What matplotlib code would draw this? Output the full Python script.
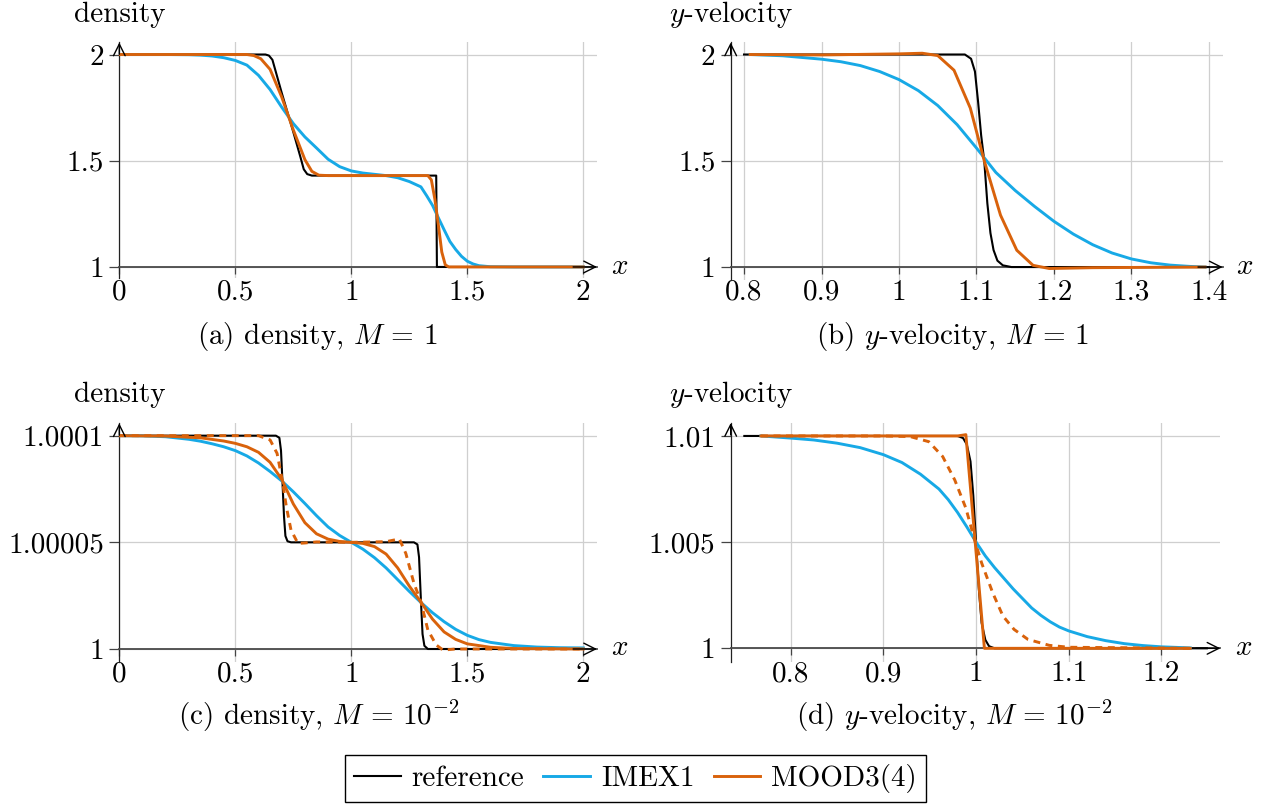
import matplotlib
matplotlib.use('Agg')
import matplotlib.pyplot as plt
from matplotlib.lines import Line2D

plt.rcParams.update({
    'font.family': 'cmr10',
    'mathtext.fontset': 'cm',
    'axes.formatter.use_mathtext': True,
    'font.size': 21,
    'lines.scale_dashes': False,
    'lines.solid_joinstyle': 'round',
    'lines.dash_joinstyle': 'round',
})

# ---------------- data ----------------
# (a) density, M = 1
ref_a_x = [0, 0.63, 0.645, 0.66, 0.70, 0.75, 0.78, 0.795, 0.81, 0.83, 1.366, 1.369, 2.0]
ref_a_y = [2, 2, 1.995, 1.975, 1.82, 1.635, 1.52, 1.46, 1.437, 1.43, 1.43, 1.0, 1.0]
imex_a_x = [0, 0.2, 0.3, 0.35, 0.4, 0.45, 0.5, 0.55, 0.6, 0.65, 0.7, 0.75, 0.8, 0.85, 0.9, 0.95,
            1.0, 1.05, 1.1, 1.15, 1.2, 1.25, 1.3, 1.325, 1.35, 1.375, 1.4, 1.425, 1.45, 1.475,
            1.5, 1.525, 1.55, 1.6, 1.7, 2.0]
imex_a_y = [2.0, 2.0, 1.999, 1.997, 1.993, 1.985, 1.972, 1.95, 1.902, 1.835, 1.752, 1.675, 1.612,
            1.56, 1.507, 1.472, 1.452, 1.442, 1.436, 1.43, 1.42, 1.402, 1.377, 1.335, 1.29, 1.232,
            1.175, 1.12, 1.082, 1.05, 1.027, 1.014, 1.006, 1.001, 1.0, 1.0]
mood_a_x = [0, 0.55, 0.58, 0.61, 0.65, 0.70, 0.75, 0.80, 0.83, 0.86, 0.9, 1.33, 1.345, 1.36,
            1.375, 1.39, 1.405, 1.42, 2.0]
mood_a_y = [2, 2, 1.995, 1.98, 1.93, 1.80, 1.645, 1.505, 1.45, 1.432, 1.43, 1.43, 1.41, 1.32,
            1.2, 1.07, 1.01, 1.0, 1.0]

# (b) y-velocity, M = 1
ref_b_x = [0.8, 1.085, 1.093, 1.098, 1.102, 1.106, 1.11, 1.114, 1.118, 1.122, 1.127, 1.134, 1.145, 1.4]
ref_b_y = [2, 2, 1.98, 1.92, 1.78, 1.62, 1.5, 1.3, 1.16, 1.08, 1.03, 1.008, 1.0, 1.0]
imex_b_x = [0.808, 0.85, 0.9, 0.925, 0.95, 0.975, 1.0, 1.025, 1.05, 1.075, 1.1, 1.125, 1.15,
            1.175, 1.2, 1.225, 1.25, 1.275, 1.3, 1.325, 1.35, 1.375, 1.395]
imex_b_y = [2.0, 1.994, 1.978, 1.966, 1.948, 1.92, 1.882, 1.83, 1.76, 1.67, 1.56, 1.445, 1.36,
            1.285, 1.215, 1.155, 1.105, 1.066, 1.038, 1.02, 1.009, 1.003, 1.0]
mood_b_x = [0.808, 0.9, 1.0, 1.03, 1.05, 1.071, 1.092, 1.11, 1.131, 1.152, 1.173, 1.194, 1.25, 1.395]
mood_b_y = [2.0, 1.998, 2.003, 2.006, 1.995, 1.926, 1.748, 1.5, 1.244, 1.079, 1.008, 0.993, 0.997, 1.0]

# (c) density, M = 1e-2
ref_c_x = [0, 0.675, 0.69, 0.697, 0.703, 0.71, 0.716, 0.725, 0.74, 1.27, 1.285, 1.292, 1.3,
           1.307, 1.315, 1.33, 2.0]
ref_c_y = [1.0001, 1.0001, 1.000099, 1.000093, 1.000079, 1.000062, 1.000053, 1.0000505, 1.00005,
           1.00005, 1.000049, 1.000043, 1.000023, 1.000007, 1.0000015, 1.0, 1.0]
imex_c_x = [0, 0.1, 0.2, 0.3, 0.35, 0.4, 0.45, 0.5, 0.55, 0.6, 0.65, 0.7, 0.75, 0.8, 0.85, 0.9,
            0.95, 1.0, 1.05, 1.1, 1.15, 1.2, 1.25, 1.3, 1.35, 1.4, 1.45, 1.5, 1.55, 1.6, 1.7,
            1.8, 1.9, 2.0]
imex_c_y = [1.0001, 1.0000999, 1.0000995, 1.0000983, 1.0000974, 1.0000962, 1.0000948, 1.000093,
            1.0000905, 1.0000872, 1.0000832, 1.0000788, 1.0000737, 1.0000682, 1.0000625,
            1.0000572, 1.0000532, 1.00005, 1.0000468, 1.0000428, 1.000038, 1.0000325, 1.000027,
            1.0000218, 1.000017, 1.0000128, 1.0000092, 1.0000064, 1.0000044, 1.0000031,
            1.0000016, 1.0000009, 1.0000006, 1.0000005]
mood_c_x = [0, 0.2, 0.35, 0.45, 0.5, 0.55, 0.6, 0.65, 0.7, 0.75, 0.8, 0.85, 0.9, 0.95, 1.0,
            1.05, 1.1, 1.15, 1.2, 1.25, 1.3, 1.35, 1.4, 1.45, 1.5, 1.6, 1.7, 2.0]
mood_c_y = [1.0001, 1.0000998, 1.000099, 1.0000975, 1.0000964, 1.0000948, 1.0000922, 1.0000875,
            1.0000795, 1.000068, 1.0000592, 1.000054, 1.0000515, 1.0000504, 1.00005, 1.0000495,
            1.000048, 1.0000445, 1.000038, 1.0000295, 1.000022, 1.000014, 1.000008, 1.0000045,
            1.0000024, 1.0000008, 1.0000002, 1.0]
mood2_c_x = [0, 0.6, 0.65, 0.68, 0.703, 0.72, 0.74, 0.77, 0.8, 0.85, 1.0, 1.15, 1.207, 1.235,
             1.27, 1.3, 1.33, 1.366, 1.395, 1.45, 2.0]
mood2_c_y = [1.0001, 1.0001, 1.000098, 1.0000917, 1.0000788, 1.0000667, 1.0000558, 1.0000495,
             1.0000497, 1.0000502, 1.00005, 1.0000503, 1.0000516, 1.0000448, 1.0000308, 1.0000222,
             1.0000089, 1.0000019, 0.9999995, 1.0, 1.0]

# (d) y-velocity, M = 1e-2
ref_d_x = [0.75, 0.98, 0.986, 0.99, 0.994, 0.997, 1.0, 1.003, 1.006, 1.01, 1.014, 1.02, 1.249]
ref_d_y = [1.01, 1.01, 1.0099, 1.0096, 1.0088, 1.0072, 1.005, 1.0028, 1.0012, 1.0004, 1.0001, 1.0, 1.0]
imex_d_x = [0.768, 0.8, 0.825, 0.85, 0.875, 0.9, 0.92, 0.94, 0.96, 0.97, 0.98, 0.99, 1.0, 1.01,
            1.02, 1.03, 1.04, 1.05, 1.06, 1.07, 1.08, 1.09, 1.1, 1.12, 1.14, 1.16, 1.18, 1.2, 1.231]
imex_d_y = [1.01, 1.0099, 1.00981, 1.00966, 1.00945, 1.00912, 1.00875, 1.0082, 1.0075, 1.007,
            1.0064, 1.00572, 1.005, 1.00435, 1.0038, 1.0033, 1.0028, 1.00235, 1.0019, 1.00155,
            1.00125, 1.001, 1.00082, 1.00055, 1.00036, 1.00022, 1.00013, 1.00007, 1.00002]
mood_d_x = [0.768, 0.9, 0.98, 0.989, 1.009, 1.1, 1.231]
mood_d_y = [1.01, 1.01, 1.01, 1.01006, 1.0, 1.0, 1.0]
mood2_d_x = [0.768, 0.9, 0.929, 0.949, 0.964, 0.977, 0.989, 0.999, 1.006, 1.018, 1.029, 1.041,
             1.056, 1.079, 1.1, 1.231]
mood2_d_y = [1.01, 1.01, 1.00997, 1.00973, 1.00903, 1.00793, 1.0066, 1.00502, 1.00402, 1.00261,
             1.00152, 1.00089, 1.00042, 1.00014, 1.00005, 1.0]

xticks_ac = [0, 0.5, 1, 1.5, 2]
xticklabels_ac = ['0', '0.5', '1', '1.5', '2']
xticks_b = [0.8, 0.9, 1.0, 1.1, 1.2, 1.3, 1.4]
xticklabels_b = ['0.8', '0.9', '1', '1.1', '1.2', '1.3', '1.4']
xticks_d = [0.8, 0.9, 1.0, 1.1, 1.2]
xticklabels_d = ['0.8', '0.9', '1', '1.1', '1.2']
yticks_ab = [1, 1.5, 2]
yticklabels_ab = ['1', '1.5', '2']
yticks_c = [1.0, 1.00005, 1.0001]
yticklabels_c = ['1', '1.00005', '1.0001']
yticks_d = [1.0, 1.005, 1.01]
yticklabels_d = ['1', '1.005', '1.01']

titles = ['density', '$y$-velocity', 'density', '$y$-velocity']
captions = [r'(a) density, $M\,=\,1$', r'(b) $y$-velocity, $M\,=\,1$',
            r'(c) density, $M\,=\,10^{-2}$', r'(d) $y$-velocity, $M\,=\,10^{-2}$']
legend_labels = ['reference', 'IMEX1', 'MOOD3(4)']

C_REF = 'black'
C_IMEX = '#17A9E6'
C_MOOD = '#D9620B'
LW_REF = 1.5
LW_C = 2.1

W, H = 1269, 805
fig = plt.figure(figsize=(W / 100, H / 100), dpi=100)


def add_ax(l, r, t, b):
    return fig.add_axes([l / W, 1 - b / H, (r - l) / W, (b - t) / H])


def style(ax, xlim, ylim, y0, xt, xtl, yt, ytl):
    ax.set_xlim(*xlim)
    ax.set_ylim(*ylim)
    for s in ['top', 'right']:
        ax.spines[s].set_visible(False)
    ax.spines['bottom'].set_position(('data', y0))
    ax.spines['bottom'].set_color('#4a4a4a')
    ax.spines['left'].set_color('#222222')
    ax.spines['bottom'].set_linewidth(1.3)
    ax.spines['left'].set_linewidth(0.9)
    ax.set_xticks(xt, xtl)
    ax.set_yticks(yt, ytl)
    ax.tick_params(axis='x', direction='out', length=5, width=0.9, color='#444444', pad=4)
    ax.tick_params(axis='y', direction='out', length=7, width=0.9, color='#444444', pad=4)
    ax.grid(True, color='#cfcfcf', lw=0.9)
    ax.set_axisbelow(True)
    ax.patch.set_alpha(0)
    style_arrow = '->,head_length=0.4,head_width=0.2'
    ax.annotate('', xy=(1, y0), xycoords=ax.get_yaxis_transform(),
                xytext=(0.95, y0), textcoords=ax.get_yaxis_transform(),
                arrowprops=dict(arrowstyle=style_arrow, lw=1.0, color='black',
                                shrinkA=0, shrinkB=0))
    ax.annotate('', xy=(xlim[0], 1), xycoords=ax.get_xaxis_transform(),
                xytext=(xlim[0], 0.95), textcoords=ax.get_xaxis_transform(),
                arrowprops=dict(arrowstyle=style_arrow, lw=1.0, color='black',
                                shrinkA=0, shrinkB=0))


# (a)
axa = add_ax(119.3, 597, 42.5, 278)
axa.plot(ref_a_x, ref_a_y, color=C_REF, lw=LW_REF, zorder=3)
axa.plot(imex_a_x, imex_a_y, color=C_IMEX, lw=LW_C, zorder=3)
axa.plot(mood_a_x, mood_a_y, color=C_MOOD, lw=LW_C, zorder=3)
style(axa, (0, 2.059), (0.948, 2.0565), 1.0, xticks_ac, xticklabels_ac, yticks_ab, yticklabels_ab)

# (b)
axb = add_ax(730.7, 1222.6, 42.5, 280)
axb.plot(ref_b_x, ref_b_y, color=C_REF, lw=LW_REF, zorder=3)
axb.plot(imex_b_x, imex_b_y, color=C_IMEX, lw=LW_C, zorder=3)
axb.plot(mood_b_x, mood_b_y, color=C_MOOD, lw=LW_C, zorder=3)
style(axb, (0.7828, 1.4176), (0.939, 2.0565), 1.0, xticks_b, xticklabels_b, yticks_ab, yticklabels_ab)

# (c)
axc = add_ax(119.3, 597, 423.3, 662)
axc.plot(ref_c_x, ref_c_y, color=C_REF, lw=LW_REF, zorder=3)
axc.plot(imex_c_x, imex_c_y, color=C_IMEX, lw=LW_C, zorder=3)
axc.plot(mood_c_x, mood_c_y, color=C_MOOD, lw=LW_C, zorder=3)
axc.plot(mood2_c_x, mood2_c_y, color=C_MOOD, lw=LW_C, dashes=(5, 4), zorder=3)
style(axc, (0, 2.059), (1 - 0.0000061, 1.0001058), 1.0, xticks_ac, xticklabels_ac, yticks_c, yticklabels_c)

# (d)
axd = add_ax(730.7, 1220.4, 423, 661.7)
axd.plot(ref_d_x, ref_d_y, color=C_REF, lw=LW_REF, zorder=3)
axd.plot(imex_d_x, imex_d_y, color=C_IMEX, lw=LW_C, zorder=3)
axd.plot(mood2_d_x, mood2_d_y, color=C_MOOD, lw=LW_C, dashes=(5, 4), zorder=3)
axd.plot(mood_d_x, mood_d_y, color=C_MOOD, lw=LW_C, zorder=3)
style(axd, (0.7353, 1.2636), (0.99937, 1.01061), 1.0, xticks_d, xticklabels_d, yticks_d, yticklabels_d)

# titles (y labels at top of y axis)
for (xp, yp), t in zip([(119.3, 22), (730.7, 22), (119.3, 402), (730.7, 402)], titles):
    fig.text(xp / W, 1 - yp / H, t, ha='center', va='baseline')

# x labels
for (xp, yp) in [(620, 267), (1245, 267), (620, 648), (1244, 648)]:
    fig.text(xp / W, 1 - yp / H, '$x$', ha='center', va='center')

# captions
for (xp, yp), t in zip([(317.5, 344), (953, 344), (319, 725), (954, 725)], captions):
    fig.text(xp / W, 1 - yp / H, t, ha='center', va='baseline')

# legend
handles = [Line2D([], [], color=C_REF, lw=LW_REF),
           Line2D([], [], color=C_IMEX, lw=LW_C),
           Line2D([], [], color=C_MOOD, lw=LW_C)]
leg = fig.legend(handles, legend_labels, ncol=3, loc='center',
                 bbox_to_anchor=(635.5 / W, 1 - 778.5 / H),
                 handlelength=1.6, handletextpad=0.38, columnspacing=0.65,
                 borderpad=0.3, frameon=True, fancybox=False, framealpha=1,
                 edgecolor='black', borderaxespad=0)
leg.get_frame().set_linewidth(1.0)

fig.savefig('out.png', dpi=100)
